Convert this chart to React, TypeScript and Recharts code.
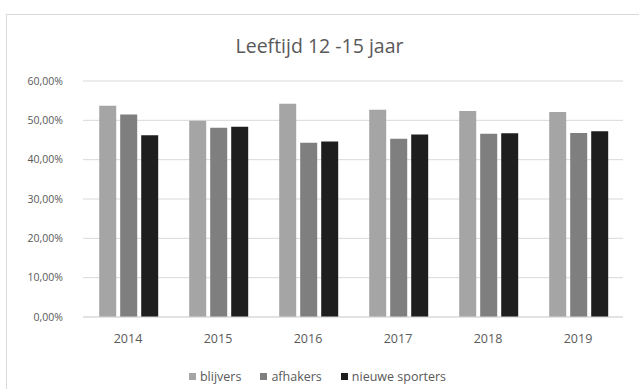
import { BarChart, Bar, XAxis, YAxis, CartesianGrid, Legend } from 'recharts'

const years = ['2014', '2015', '2016', '2017', '2018', '2019']
const blijvers = [0.537, 0.499, 0.542, 0.527, 0.524, 0.521]
const afhakers = [0.515, 0.481, 0.443, 0.453, 0.466, 0.468]
const nieuweSporters = [0.462, 0.484, 0.446, 0.464, 0.467, 0.472]
const yTicks = [0, 0.1, 0.2, 0.3, 0.4, 0.5, 0.6]

const seriesNames = ['blijvers', 'afhakers', 'nieuwe sporters']
const seriesColors = ['#a5a5a5', '#7f7f7f', '#1e1e1e']

const font = '"Open Sans", "Noto Sans", sans-serif'
const textColor = '#595959'

const chartData = years.map((year, i) => ({
  year,
  blijvers: blijvers[i],
  afhakers: afhakers[i],
  nieuwe: nieuweSporters[i]
}))

const pct = (v: number) => (v * 100).toFixed(2).replace('.', ',') + '%'

// keep legend in series order (recharts sorts it by name otherwise)
const LegendContent = () => (
  <div style={{ display: 'flex', justifyContent: 'center', alignItems: 'center', gap: 19, paddingLeft: 12, fontSize: 12.5, color: textColor, fontFamily: font }}>
    {seriesNames.map((name, i) => (
      <span key={name} style={{ display: 'flex', alignItems: 'center' }}>
        <span style={{ display: 'inline-block', width: 7, height: 7, background: seriesColors[i], marginRight: 4 }} />
        {name}
      </span>
    ))}
  </div>
)

export default function App() {
  return (
    <div style={{ position: 'fixed', left: 0, top: 0, width: 639, height: 389, background: '#fff', overflow: 'hidden', fontFamily: font }}>
      <div style={{ position: 'absolute', left: 6, top: 14, width: 640, height: 390, border: '1px solid #d9d9d9' }} />
      <div style={{ position: 'absolute', left: 0, width: 639, top: 32, textAlign: 'center', fontSize: 19.5, color: textColor }}>
        Leeftijd 12 -15 jaar
      </div>
      <div style={{ position: 'absolute', left: 0, top: 0 }}>
        <BarChart
          width={639}
          height={389}
          data={chartData}
          margin={{ top: 81, right: 16, left: 0, bottom: 20 }}
          barCategoryGap="18%"
          barGap={4}
        >
          <CartesianGrid vertical={false} stroke="#d9d9d9" />
          <XAxis
            dataKey="year"
            axisLine={{ stroke: '#d9d9d9' }}
            tickLine={false}
            tick={{ fill: textColor, fontSize: 12.5, fontFamily: font }}
            height={28}
            tickMargin={11}
          />
          <YAxis
            width={83}
            domain={[0, 0.6]}
            ticks={yTicks}
            tickFormatter={pct}
            axisLine={false}
            tickLine={false}
            tick={{ fill: textColor, fontSize: 10.5, fontFamily: font }}
            tickMargin={14}
          />
          <Legend
            verticalAlign="bottom"
            align="center"
            height={24}
            content={<LegendContent />}
            wrapperStyle={{ bottom: -3 }}
          />
          <Bar dataKey="blijvers" name={seriesNames[0]} fill={seriesColors[0]} isAnimationActive={false} />
          <Bar dataKey="afhakers" name={seriesNames[1]} fill={seriesColors[1]} isAnimationActive={false} />
          <Bar dataKey="nieuwe" name={seriesNames[2]} fill={seriesColors[2]} isAnimationActive={false} />
        </BarChart>
      </div>
    </div>
  )
}
